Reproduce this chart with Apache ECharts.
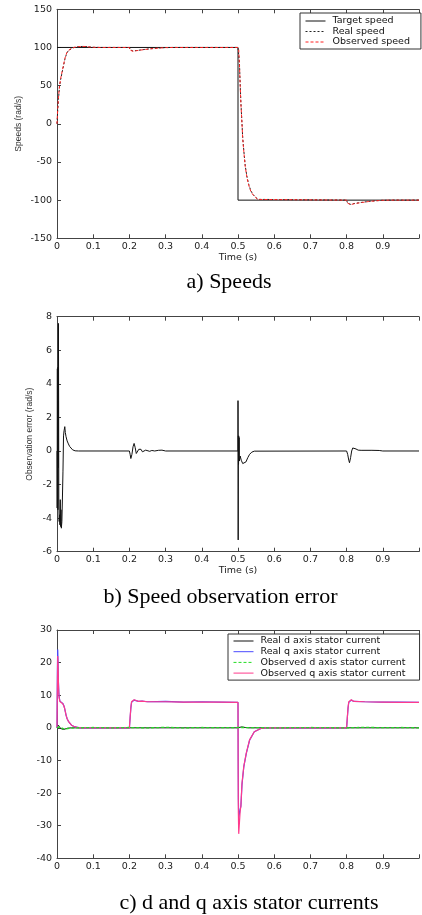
<!DOCTYPE html>
<html>
<head>
<meta charset="utf-8">
<script src="https://cdn.jsdelivr.net/npm/echarts@6/dist/echarts.min.js"></script>
<style>
  html, body { margin: 0; padding: 0; background: #fff; }
  #chart { width: 422px; height: 915px; }
</style>
</head>
<body>
<div id="chart"></div>
<script>
// a) speeds, [time, rad/s]
const speedTarget = [[0, 100], [0.5, 100], [0.5, -100], [1, -100]];
const speedReal = [
  [0, 0], [0.002, 18], [0.004, 32], [0.007, 49], [0.01, 58], [0.014, 67], [0.018, 76],
  [0.022, 85], [0.027, 92.5], [0.031, 95.5], [0.036, 97.5], [0.042, 99.2], [0.05, 100.3],
  [0.06, 101], [0.07, 101.3], [0.08, 101.2], [0.09, 100.6], [0.1, 100.2], [0.12, 100],
  [0.2, 100], [0.202, 97], [0.205, 95.5], [0.21, 95.3], [0.22, 96], [0.24, 97.3],
  [0.26, 98.4], [0.28, 99.3], [0.3, 99.8], [0.32, 100], [0.5, 100], [0.502, 98],
  [0.504, 80], [0.506, 52], [0.508, 28], [0.51, 10], [0.513, -18], [0.516, -35],
  [0.52, -55], [0.525, -70], [0.53, -80], [0.535, -87], [0.54, -91.5], [0.545, -94.5],
  [0.55, -97], [0.555, -99], [0.56, -100], [0.8, -100], [0.802, -103], [0.805, -105.5],
  [0.81, -105.5], [0.82, -104.5], [0.84, -103], [0.86, -101.8], [0.88, -100.8],
  [0.9, -100.2], [0.92, -100], [1, -100]
];
const speedObserved = [
  [0, 0], [0.002, 20], [0.004, 34], [0.007, 50], [0.01, 59], [0.014, 68], [0.018, 77],
  [0.022, 86], [0.027, 93], [0.031, 96], [0.036, 97.8], [0.042, 99.3], [0.05, 100.4],
  [0.06, 101.1], [0.07, 101.4], [0.08, 101.2], [0.09, 100.6], [0.1, 100.2], [0.12, 100],
  [0.2, 100], [0.202, 96.5], [0.205, 95], [0.21, 95], [0.22, 95.8], [0.24, 97.2],
  [0.26, 98.3], [0.28, 99.2], [0.3, 99.8], [0.32, 100], [0.5, 100], [0.502, 97],
  [0.504, 78], [0.506, 50], [0.508, 26], [0.51, 9], [0.513, -19], [0.516, -36],
  [0.52, -56], [0.525, -71], [0.53, -81], [0.535, -88], [0.54, -92], [0.545, -95],
  [0.55, -97.3], [0.555, -99.1], [0.56, -100], [0.8, -100], [0.802, -103.5], [0.805, -106],
  [0.81, -106], [0.82, -104.8], [0.84, -103.2], [0.86, -101.9], [0.88, -100.9],
  [0.9, -100.2], [0.92, -100], [1, -100]
];

// b) speed observation error, [time, rad/s]
const obsError = [
  [0, 0], [0.0005, -3.4], [0.001, 4.9], [0.0015, -3.2], [0.002, 4.6], [0.0025, -3.5],
  [0.003, 5], [0.0035, -1], [0.004, 7.6], [0.0045, 3], [0.005, -2.8], [0.006, -4.2],
  [0.007, -3.8], [0.008, -4.4], [0.009, -2.9], [0.01, -4.5], [0.011, -3.5], [0.012, -4.6],
  [0.0135, -4.2], [0.015, -2.8], [0.0165, -1.2], [0.018, 0.9], [0.0195, 1.2], [0.0215, 1.45],
  [0.023, 1.1], [0.025, 0.85], [0.028, 0.6], [0.0315, 0.42], [0.035, 0.27], [0.038, 0.18],
  [0.043, 0.07], [0.05, 0.01], [0.06, 0], [0.2, 0], [0.202, -0.2], [0.204, -0.45],
  [0.207, -0.2], [0.21, 0.25], [0.213, 0.45], [0.216, 0.2], [0.219, -0.15], [0.222, -0.25],
  [0.226, 0.1], [0.229, 0.2], [0.232, 0.1], [0.236, -0.05], [0.24, -0.05], [0.245, 0.05],
  [0.25, 0.05], [0.256, -0.02], [0.262, 0.03], [0.27, 0], [0.28, 0.04], [0.29, 0.05],
  [0.3, 0], [0.5, 0], [0.5, 3], [0.5005, -5.3], [0.501, 0.9], [0.5015, -0.8], [0.502, 0.9],
  [0.5025, -0.6], [0.503, 0.8], [0.5035, -0.6], [0.506, -0.3], [0.509, -0.55], [0.513, -0.75],
  [0.518, -0.85], [0.522, -0.65], [0.527, -0.4], [0.532, -0.2], [0.538, -0.07], [0.545, -0.01],
  [0.55, 0], [0.8, 0], [0.803, -0.2], [0.806, -0.55], [0.808, -0.7], [0.811, -0.4],
  [0.814, 0], [0.817, 0.18], [0.821, 0.2], [0.826, 0.12], [0.832, 0.05], [0.84, 0.04],
  [0.87, 0.04], [0.89, 0.03], [0.9, 0], [1, 0]
];

// c) d and q axis stator currents, [time, A]
const curRealD = [
  [0, 0], [0.002, 0.3], [0.004, 0.8], [0.006, 0.6], [0.008, 0.2], [0.01, -0.2], [0.014, -0.4],
  [0.018, -0.5], [0.022, -0.3], [0.03, -0.1], [0.04, 0], [0.5, 0], [0.502, 0.4], [0.505, 0.5],
  [0.51, 0.3], [0.52, 0.1], [0.53, 0], [1, 0]
];
const curRealQ = [
  [0, 0], [0.001, 18], [0.002, 24], [0.003, 20], [0.004, 14], [0.005, 11], [0.006, 9.5],
  [0.008, 8.2], [0.01, 8], [0.013, 7.8], [0.016, 7.5], [0.019, 6.8], [0.021, 6], [0.023, 5],
  [0.025, 3.9], [0.028, 2.8], [0.0315, 2], [0.035, 1.4], [0.04, 0.8], [0.047, 0.4],
  [0.054, 0.2], [0.063, 0], [0.2, 0], [0.202, 3], [0.204, 6], [0.206, 7.8], [0.209, 8.4],
  [0.213, 8.5], [0.218, 8.2], [0.225, 8.1], [0.235, 8.2], [0.25, 8], [0.3, 8.1], [0.35, 7.9],
  [0.4, 8], [0.45, 7.9], [0.5, 7.8], [0.5005, -10], [0.501, -22], [0.502, -27.5], [0.504, -27],
  [0.506, -25], [0.508, -24], [0.511, -17.5], [0.516, -12], [0.523, -7.8], [0.532, -3.8],
  [0.545, -1.2], [0.563, -0.2], [0.576, 0], [0.8, 0], [0.802, 3], [0.804, 6], [0.806, 7.8],
  [0.809, 8.4], [0.813, 8.5], [0.82, 8.1], [0.85, 8], [0.9, 7.9], [0.95, 7.9], [1, 7.8]
];
const curObsD = [
  [0, 0], [0.003, 0.5], [0.006, 0.3], [0.01, -0.3], [0.02, -0.4], [0.03, -0.2], [0.05, 0],
  [0.1, 0.1], [0.15, 0], [0.2, 0.1], [0.25, 0], [0.3, 0.15], [0.35, 0], [0.4, 0.1],
  [0.45, 0.05], [0.5, 0.1], [0.505, 0.4], [0.52, 0.1], [0.6, 0], [0.7, 0.1], [0.8, 0],
  [0.85, 0.15], [0.9, 0.05], [0.95, 0.1], [1, 0]
];
const curObsQ = [
  [0, 0], [0.001, 12], [0.002, 22], [0.003, 19], [0.004, 13.5], [0.005, 10.5], [0.006, 9.2],
  [0.008, 8.1], [0.01, 7.9], [0.013, 7.8], [0.016, 7.4], [0.019, 6.7], [0.021, 6], [0.023, 5],
  [0.025, 3.9], [0.028, 2.8], [0.0315, 2], [0.035, 1.4], [0.04, 0.8], [0.047, 0.4],
  [0.054, 0.2], [0.063, 0], [0.2, 0], [0.202, 3.2], [0.204, 6.2], [0.206, 8], [0.209, 8.6],
  [0.213, 8.6], [0.218, 8.3], [0.225, 8.1], [0.235, 8.2], [0.25, 8], [0.3, 8], [0.35, 7.9],
  [0.4, 7.9], [0.45, 7.9], [0.5, 7.8], [0.5005, -14], [0.501, -26], [0.502, -32.5],
  [0.504, -29], [0.506, -25.5], [0.508, -24], [0.511, -17], [0.516, -11.8], [0.523, -7.7],
  [0.532, -3.7], [0.545, -1.2], [0.563, -0.2], [0.576, 0], [0.8, 0], [0.802, 3.2],
  [0.804, 6.2], [0.806, 8], [0.809, 8.6], [0.813, 8.6], [0.82, 8.1], [0.85, 8], [0.9, 7.9],
  [0.95, 7.8], [1, 7.8]
];

const chart = echarts.init(document.getElementById('chart'));

const tickFont = { fontFamily: 'DejaVu Sans', fontSize: 9.5, color: '#222' };
const axisLine = { onZero: false, lineStyle: { color: '#444', width: 1 } };
const axisTick = { inside: true, length: 4, lineStyle: { color: '#444' } };

function bottomAxis(i, withName) {
  return {
    type: 'value', gridIndex: i, min: 0, max: 1, interval: 0.1,
    axisLine: axisLine, axisTick: axisTick,
    axisLabel: Object.assign({ margin: 3, formatter: v => (v >= 1 ? '' : String(v)) }, tickFont),
    splitLine: { show: false },
    name: withName ? 'Time (s)' : '',
    nameLocation: 'middle', nameGap: 14, nameMoveOverlap: false,
    nameTextStyle: tickFont
  };
}
function topAxis(i) {
  return {
    type: 'value', gridIndex: i, position: 'top', min: 0, max: 1, interval: 0.1,
    axisLine: axisLine, axisTick: axisTick,
    axisLabel: { show: false },
    splitLine: { show: false }
  };
}
function leftAxis(i, min, max, step, name, gap) {
  return {
    type: 'value', gridIndex: i, min: min, max: max, interval: step,
    axisLine: axisLine, axisTick: axisTick,
    axisLabel: Object.assign({ margin: 5 }, tickFont),
    splitLine: { show: false },
    name: name, nameLocation: 'middle', nameRotate: 90, nameGap: gap, nameMoveOverlap: false,
    nameTextStyle: { fontFamily: 'Liberation Sans', fontSize: 8.5, color: '#333' }
  };
}
function line(name, data, ax, color, type, width, z) {
  return {
    name: name, type: 'line', data: data, xAxisIndex: ax, yAxisIndex: ax,
    symbol: 'none', animation: false, z: z,
    lineStyle: { color: color, type: type, width: width },
    itemStyle: { color: color }
  };
}
const legendBase = {
  orient: 'vertical', itemWidth: 20, itemHeight: 8, borderColor: '#333', borderWidth: 1,
  backgroundColor: '#fff', selectedMode: false, align: 'left',
  itemStyle: { opacity: 0 },
  lineStyle: { width: 1 },
  textStyle: { fontFamily: 'DejaVu Sans', fontSize: 9.5, lineHeight: 10, color: '#111', padding: [0, 0, 0, 2] }
};

chart.setOption({
  animation: false,
  grid: [
    { left: 57, right: -4.3, top: 9.3, height: 229 },
    { left: 57, right: -4.3, top: 316.7, height: 235 },
    { left: 57, right: -4.3, top: 630, height: 228.3 }
  ],
  xAxis: [bottomAxis(0, true), bottomAxis(1, true), bottomAxis(2, false), topAxis(0), topAxis(1), topAxis(2)],
  yAxis: [
    leftAxis(0, -150, 150, 50, 'Speeds (rad/s)', 34),
    leftAxis(1, -6, 8, 2, 'Observation error (rad/s)', 23),
    leftAxis(2, -40, 30, 10, '', 20)
  ],
  legend: [
    Object.assign({}, legendBase, {
      left: 300, top: 13, padding: [3, 11, 2, 5], itemGap: 0.5,
      data: ['Target speed', 'Real speed', 'Observed speed']
    }),
    Object.assign({}, legendBase, {
      left: 228, top: 634, padding: [2, 14, 2, 5], itemGap: 0.7,
      data: ['Real d axis stator current', 'Real q axis stator current',
        'Observed d axis stator current', 'Observed q axis stator current']
    })
  ],
  series: [
    line('Target speed', speedTarget, 0, '#111', 'solid', 1, 2),
    line('Real speed', speedReal, 0, '#222', [2, 2], 1, 3),
    line('Observed speed', speedObserved, 0, '#ff2020', [3, 2], 1, 4),
    line('Speed observation error', obsError, 1, '#111', 'solid', 1, 2),
    line('Real d axis stator current', curRealD, 2, '#111', 'solid', 1, 2),
    line('Real q axis stator current', curRealQ, 2, '#4b4bff', 'solid', 1.2, 3),
    line('Observed d axis stator current', curObsD, 2, '#22dd22', [3, 2], 1.3, 5),
    line('Observed q axis stator current', curObsQ, 2, '#ff3a8c', 'solid', 1.2, 4)
  ],
  graphic: [
    { type: 'text', x: 229, y: 282, style: { text: 'a) Speeds', fontFamily: 'Liberation Serif', fontSize: 22, fill: '#000', align: 'center', verticalAlign: 'middle' } },
    { type: 'text', x: 220.5, y: 597, style: { text: 'b) Speed observation error', fontFamily: 'Liberation Serif', fontSize: 22, fill: '#000', align: 'center', verticalAlign: 'middle' } },
    { type: 'text', x: 249, y: 903, style: { text: 'c) d and q axis stator currents', fontFamily: 'Liberation Serif', fontSize: 22, fill: '#000', align: 'center', verticalAlign: 'middle' } }
  ]
});
</script>
</body>
</html>
